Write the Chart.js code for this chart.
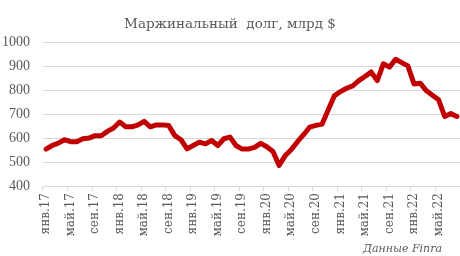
<!DOCTYPE html>
<html>
<head>
<meta charset="utf-8">
<script src="https://cdn.jsdelivr.net/npm/chart.js@4/dist/chart.umd.min.js"></script>
<style>
  html, body { margin: 0; padding: 0; background: #ffffff; }
  #wrap { width: 460px; height: 256px; position: relative; }
</style>
</head>
<body>
<div id="wrap"><canvas id="c" width="460" height="256"></canvas></div>
<script>
const chartTitle = 'Маржинальный  долг, млрд $';
const sourceNote = 'Данные Finra';
const monthNames = ['янв','фев','мар','апр','май','июн','июл','авг','сен','окт','ноя','дек'];
const years = ['17','18','19','20','21','22'];
const monthsInLastYear = 8;
const yTicks = [400, 500, 600, 700, 800, 900, 1000];

const values2017 = [554, 569, 579, 593, 585, 585, 597, 600, 610, 610, 628, 642];
const values2018 = [667, 647, 647, 655, 670, 647, 655, 655, 652, 610, 593, 555];
const values2019 = [569, 583, 576, 590, 569, 597, 604, 568, 554, 554, 561, 578];
const values2020 = [564, 544, 486, 527, 552, 585, 614, 646, 653, 658, 717, 776];
const values2021 = [794, 808, 818, 840, 857, 876, 840, 910, 896, 929, 915, 901];
const values2022 = [826, 829, 798, 779, 760, 690, 702, 690];

const categories = [];
years.forEach((y, yi) => {
  const n = yi === years.length - 1 ? monthsInLastYear : 12;
  for (let m = 0; m < n; m++) categories.push(monthNames[m] + '.' + y);
});
const marginDebt = [].concat(values2017, values2018, values2019, values2020, values2021, values2022);

const notePlugin = {
  id: 'note',
  afterDraw(chart) {
    const ctx = chart.ctx;
    ctx.save();
    ctx.font = 'italic 11px "DejaVu Serif"';
    ctx.fillStyle = '#595959';
    ctx.textAlign = 'right';
    ctx.textBaseline = 'alphabetic';
    ctx.fillText(sourceNote, 442, 252);
    ctx.restore();
  }
};

new Chart(document.getElementById('c'), {
  type: 'line',
  data: {
    labels: categories,
    datasets: [{
      data: marginDebt,
      borderColor: '#C00000',
      backgroundColor: '#C00000',
      borderWidth: 5,
      pointRadius: 0,
      tension: 0,
      borderJoinStyle: 'round',
      borderCapStyle: 'round',
      fill: false
    }]
  },
  options: {
    responsive: false,
    animation: false,
    layout: { padding: { left: 0, right: 0, top: 0, bottom: 0 } },
    plugins: {
      legend: { display: false },
      tooltip: { enabled: false },
      title: {
        display: true,
        text: chartTitle,
        color: '#595959',
        font: { family: '"DejaVu Serif"', size: 13.5, weight: 'normal' },
        padding: { top: 16, bottom: 10 }
      }
    },
    scales: {
      x: {
        offset: true,
        afterFit(scale) { scale.height = 70; scale.paddingLeft = 0; scale.paddingRight = 0; },
        grid: {
          offset: true,
          drawOnChartArea: false,
          drawTicks: true,
          tickLength: 5,
          color: (ctx) => (ctx.index % 4 === 0 ? '#d9d9d9' : 'rgba(0,0,0,0)')
        },
        border: { display: true, color: '#d9d9d9' },
        ticks: {
          autoSkip: false,
          minRotation: 90,
          maxRotation: 90,
          padding: 2,
          color: '#595959',
          font: { family: '"DejaVu Serif"', size: 12 },
          callback: function (v, i) { return i % 4 === 0 ? categories[i] : ''; }
        }
      },
      y: {
        min: 400,
        max: 1000,
        afterFit(scale) { scale.width = 43; },
        afterBuildTicks(scale) { scale.ticks = yTicks.map(v => ({ value: v })); },
        grid: { color: '#d9d9d9', drawTicks: false },
        border: { display: false },
        ticks: {
          padding: 13,
          color: '#595959',
          font: { family: '"Liberation Serif"', size: 14 },
          callback: (v) => String(v)
        }
      }
    }
  },
  plugins: [notePlugin]
});
</script>
</body>
</html>
